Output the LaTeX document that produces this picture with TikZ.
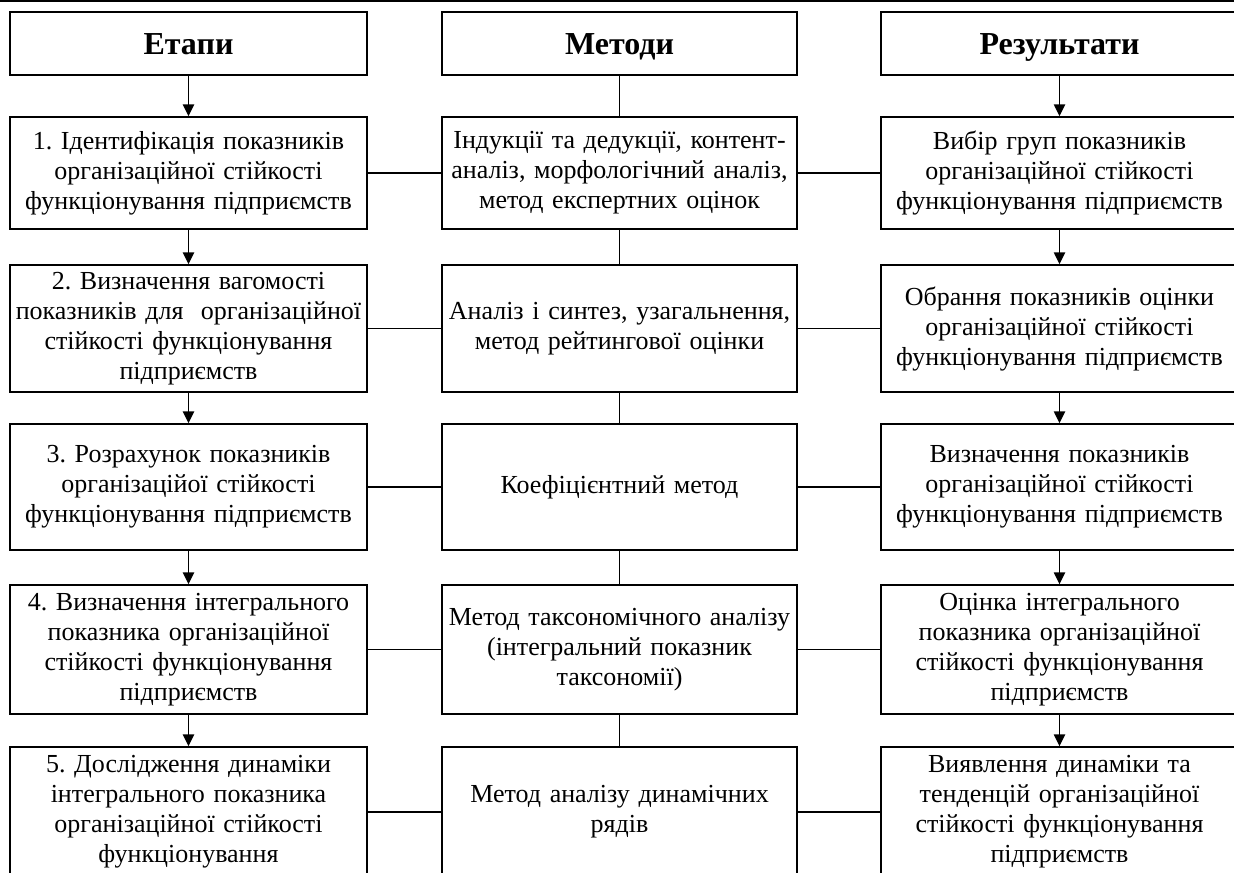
\documentclass[tikz,border=0pt]{standalone}
\usepackage{fontspec}
\setmainfont{Liberation Serif}
\usetikzlibrary{arrows.meta}
\frenchspacing
\tikzset{
  box/.style={draw, line width=1.1pt, align=center, inner xsep=0pt, inner ysep=0pt,
    text width=262pt, minimum width=267.75pt,
    font=\frenchspacing\fontsize{19.5}{22.5}\selectfont},
  midbox/.style={box, minimum width=266.25pt},
  head/.style={box, minimum height=47.25pt, text height=20.5pt, text depth=3.5pt,
    font=\fontsize{24}{27}\selectfont\bfseries},
  arr/.style={line width=1.1pt, -{Triangle[length=9pt,width=8.5pt]}},
  link/.style={line width=1.1pt}
}
\begin{document}
\begin{tikzpicture}[x=0.75pt,y=-0.75pt]
\useasboundingbox (0,0) rectangle (1234,872);
\clip (0,0) rectangle (1234,872);
\coordinate (tl) at (0,1);
\coordinate (tr) at (1234,1);
\draw[line width=1.5pt] (tl) -- (tr);
% headers
\node[head] (e0) at (188.5,43.5) {Етапи};
\node[head, minimum width=266.25pt] (m0) at (619.5,43.5) {Методи};
\node[head] (r0) at (1059.5,43.5) {Результати};
% row 1
\node[box, minimum height=84pt] (e1) at (188.5,173) {1. Ідентифікація показників\\організаційної стійкості\\функціонування підприємств};
\node[midbox, minimum height=84pt] (m1) at (619.5,173) {Індукції та дедукції, контент-\\аналіз, морфологічний аналіз,\\метод експертних оцінок};
\node[box, minimum height=84pt] (r1) at (1059.5,173) {Вибір груп показників\\організаційної стійкості\\функціонування підприємств};
% row 2
\node[box, minimum height=95.25pt] (e2) at (188.5,328.5) {2. Визначення вагомості\\показників для~ організаційної\\стійкості функціонування\\підприємств};
\node[midbox, minimum height=95.25pt] (m2) at (619.5,328.5) {Аналіз і синтез, узагальнення,\\метод рейтингової оцінки};
\node[box, minimum height=95.25pt] (r2) at (1059.5,328.5) {Обрання показників оцінки\\організаційної стійкості\\функціонування підприємств};
% row 3
\node[box, minimum height=94.5pt] (e3) at (188.5,487) {3. Розрахунок показників\\організацiйої стійкості\\функціонування підприємств};
\node[midbox, minimum height=94.5pt] (m3) at (619.5,487) {Коефіцієнтний метод};
\node[box, minimum height=94.5pt] (r3) at (1059.5,487) {Визначення показників\\організаційної стійкості\\функціонування підприємств};
% row 4
\node[box, minimum height=96.75pt] (e4) at (188.5,649.5) {4. Визначення інтегрального\\показника організаційної\\стійкості функціонування\\підприємств};
\node[midbox, minimum height=96.75pt] (m4) at (619.5,649.5) {Метод таксономічного аналізу\\(інтегральний показник\\таксономії)};
\node[box, minimum height=96.75pt] (r4) at (1059.5,649.5) {Оцінка інтегрального\\показника організаційної\\стійкості функціонування\\підприємств};
% row 5
\node[box, minimum height=97.5pt] (e5) at (188.5,812) {5. Дослідження динаміки\\інтегрального показника\\організаційної стійкості\\функціонування};
\node[midbox, minimum height=97.5pt] (m5) at (619.5,812) {Метод аналізу динамічних\\рядів};
\node[box, minimum height=97.5pt] (r5) at (1059.5,812) {Виявлення динаміки та\\тенденцій організаційної\\стійкості функціонування\\підприємств};
% vertical connectors
\foreach \a/\b in {0/1,1/2,2/3,3/4,4/5}{
  \draw[arr] (e\a) -- (e\b);
  \draw[link] (m\a) -- (m\b);
  \draw[arr] (r\a) -- (r\b);
}
% horizontal connectors
\foreach \i in {1,...,5}{
  \draw[link] (e\i) -- (m\i);
  \draw[link] (m\i) -- (r\i);
}
\end{tikzpicture}
\end{document}
